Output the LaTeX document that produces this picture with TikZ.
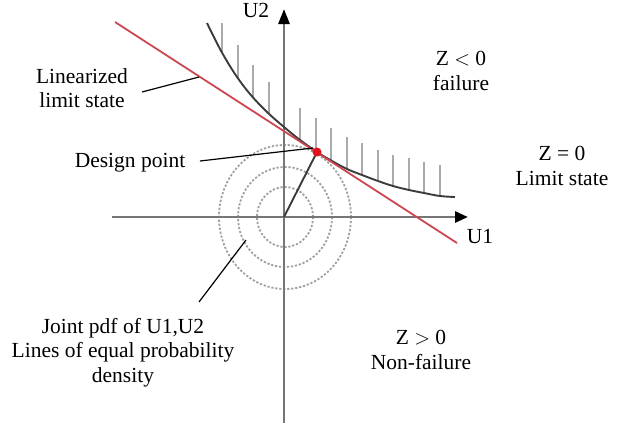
\documentclass[tikz,border=0pt]{standalone}
\usepackage{fontspec}
\setmainfont{Liberation Serif}
\usetikzlibrary{arrows.meta}
\definecolor{axisgray}{RGB}{118,118,118}
\definecolor{hatchgray}{RGB}{170,170,170}
\definecolor{curvegray}{RGB}{60,60,60}
\definecolor{circgray}{RGB}{160,160,160}
\definecolor{linred}{RGB}{205,70,80}
\definecolor{dotred}{RGB}{225,20,30}
\tikzset{
  lbl/.style={inner sep=0pt, anchor=north, align=center, font=\fontsize{21.5}{24.5}\selectfont},
  axisline/.style={draw=axisgray, line width=2.8pt},
  hatch/.style={draw=hatchgray, line width=1.4pt},
  contour/.style={draw=circgray, line width=1.8pt, dash pattern=on 2.2pt off 1.8pt},
  leader/.style={draw=black, line width=1.2pt},
}
\begin{document}
\begin{tikzpicture}[x=1pt,y=-1pt]
\useasboundingbox (0,0) rectangle (626,429);
% named points
\coordinate (O) at (284,217);
\coordinate (DP) at (317,152);
\coordinate (ytop) at (284,9);
\coordinate (ybot) at (284,423);
\coordinate (xleft) at (112,217);
\coordinate (xright) at (468,217);
% contours of joint pdf
\draw[contour] (285,217) ellipse [x radius=28, y radius=30];
\draw[contour] (285,217) ellipse [x radius=47, y radius=50];
\draw[contour] (285,217) ellipse [x radius=66, y radius=72];
% hatching of failure domain
\foreach \hx/\htop/\hbot in {222/23/52, 238/45/79, 253/65/98, 269/82/114, 300/108/140, 316/118/151, 331/128/160, 347/137/169, 362/143/175, 378/150/181, 393/155/186, 409/158/190, 424/162/193, 440/165/196}
  \draw[hatch] (\hx,\htop) -- (\hx,\hbot);
% axes
\draw[axisline, -{Triangle[length=15pt,width=11pt,color=black]}] (ybot) -- (ytop);
\draw[axisline, -{Triangle[length=13pt,width=11pt,color=black]}] (xleft) -- (xright);
% limit state curve
\draw[curvegray, line width=1.9pt] plot[smooth, tension=0.6] coordinates {(207,23) (220,49) (235,74) (250,94) (267,112) (284,127) (300,140) (317,152) (332,161) (347,169) (362,175) (378,181) (393,186) (409,190) (424,193) (440,196) (455,197)};
% linearized limit state
\coordinate (Ltop) at (115,22);
\coordinate (Lbot) at (457,243);
\draw[linred, line width=1.8pt] (Ltop) -- (Lbot);
% reliability index
\draw[curvegray, line width=1.9pt] (O) -- (DP);
\fill[dotred] (DP) circle (4.5);
% labels
\node[lbl] (u2) at (256,3) {U2};
\node[lbl] (u1) at (480,229) {U1};
\node[lbl] (zneg) at (461,51) {Z $<$ 0\\failure};
\node[lbl] (zzero) at (562,146) {Z = 0\\Limit state};
\node[lbl] (zpos) at (421,330) {Z $>$ 0\\Non-failure};
\node[lbl] (lin) at (82,68) {Linearized\\limit state};
\node[lbl] (dp) at (130,153) {Design point};
\node[lbl] (pdf) at (123,318) {Joint pdf of U1,U2\\Lines of equal probability\\density};
% leaders
\coordinate (linA) at (142,92);
\coordinate (linB) at (199,77);
\coordinate (dpA) at (200,161);
\coordinate (dpB) at (313,148);
\coordinate (pdfA) at (199,302);
\coordinate (pdfB) at (246,240);
\draw[leader] (linA) -- (linB);
\draw[leader] (dpA) -- (dpB);
\draw[leader] (pdfA) -- (pdfB);
\end{tikzpicture}
\end{document}
